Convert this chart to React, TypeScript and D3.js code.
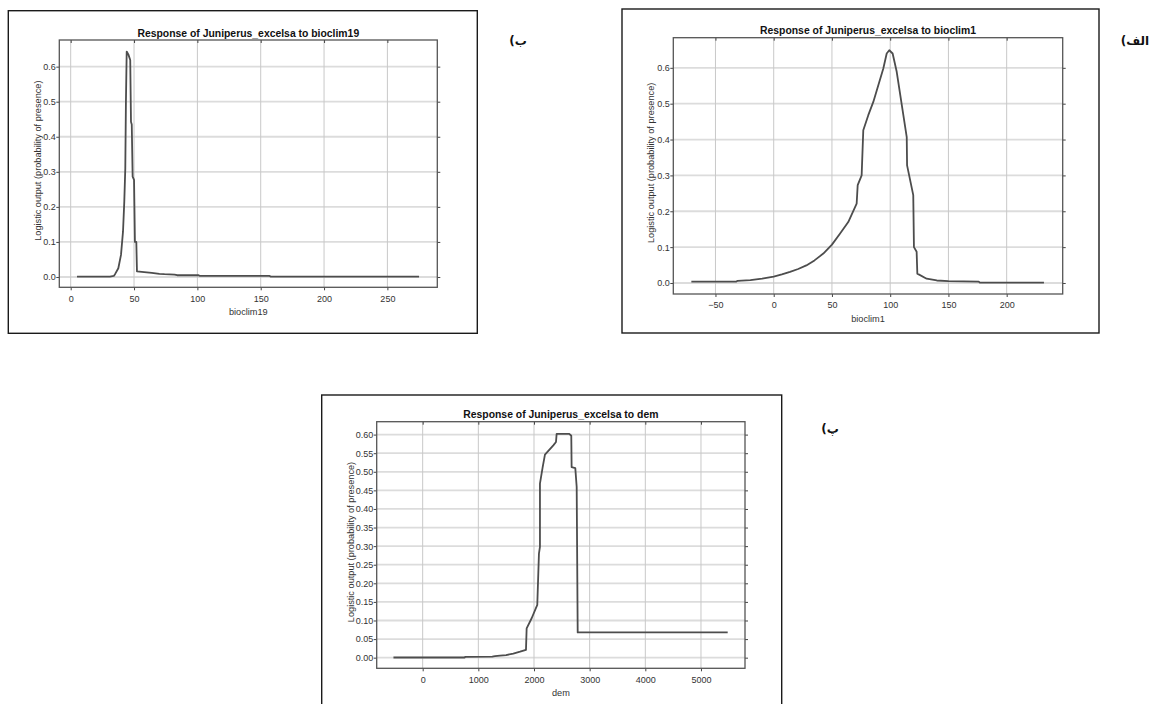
import React, { useEffect, useRef } from 'react';
import * as d3 from 'd3';

// response curves: [variable value, logistic output]
const bioclim1Curve: [number, number][] = [
  [-70.7, 0.004], [-32, 0.004], [-31, 0.006], [-20, 0.008], [-10, 0.012], [-5, 0.015],
  [0, 0.018], [7, 0.024], [14, 0.031], [21, 0.039], [28, 0.049], [35, 0.063], [42.6, 0.082],
  [50, 0.107], [57, 0.138], [64, 0.17], [71.2, 0.221], [72.1, 0.273], [75.5, 0.3],
  [76.9, 0.426], [81.2, 0.468], [85.5, 0.505], [94.1, 0.598], [97, 0.64], [99.2, 0.649],
  [102.1, 0.64], [105.6, 0.589], [114.2, 0.407], [114.5, 0.328], [119.8, 0.245], [120.4, 0.1],
  [122.7, 0.087], [123.3, 0.026], [131.3, 0.012], [140, 0.007], [150, 0.005], [176, 0.004],
  [177, 0.001], [232, 0.001],
];

const bioclim19Curve: [number, number][] = [
  [5, 0.001], [31, 0.001], [34, 0.003], [35, 0.008], [37.6, 0.025], [39.7, 0.063],
  [41.3, 0.13], [42.3, 0.215], [43.1, 0.31], [43.6, 0.5], [44.2, 0.643], [45.5, 0.635],
  [47, 0.619], [47.6, 0.443], [48.2, 0.435], [48.9, 0.286], [50, 0.277], [50.7, 0.1],
  [51.8, 0.1], [52.3, 0.016], [58, 0.014], [64, 0.012], [70, 0.009], [74, 0.008],
  [82, 0.007], [84, 0.005], [101, 0.005], [102, 0.003], [157, 0.003], [158, 0.001], [275, 0.001],
];

const demCurve: [number, number][] = [
  [-525, 0.0005], [755, 0.0005], [760, 0.002], [1250, 0.003], [1300, 0.004], [1390, 0.0054],
  [1500, 0.007], [1628, 0.011], [1750, 0.016], [1856, 0.021], [1868, 0.079], [1958, 0.106],
  [2059, 0.142], [2089, 0.28], [2107, 0.298], [2107, 0.468], [2156, 0.5125], [2197, 0.546],
  [2347, 0.571], [2395, 0.58], [2407, 0.602], [2634, 0.602], [2670, 0.597], [2676, 0.5125],
  [2742, 0.51], [2767, 0.459], [2785, 0.068], [5480, 0.068],
];

const bioclim1Ticks = [-50, 0, 50, 100, 150, 200];
const bioclim19Ticks = [0, 50, 100, 150, 200, 250];
const demTicks = [0, 1000, 2000, 3000, 4000, 5000];
const probTicks = [0, 0.1, 0.2, 0.3, 0.4, 0.5, 0.6];
const probTicksFine = [0, 0.05, 0.1, 0.15, 0.2, 0.25, 0.3, 0.35, 0.4, 0.45, 0.5, 0.55, 0.6];

const titles = [
  'Response of Juniperus_excelsa to bioclim1',
  'Response of Juniperus_excelsa to bioclim19',
  'Response of Juniperus_excelsa to dem',
];
const xLabels = ['bioclim1', 'bioclim19', 'dem'];
const yLabel = 'Logistic output (probability of presence)';
const panelLetters = ['الف)', 'ب)', 'پ)'];

const FONT = "'Liberation Sans', Arial, sans-serif";

function drawPanel(svg, p) {
  const [l, t, r, b] = p.plot;
  const g = svg.append('g');

  g.append('rect')
    .attr('x', p.box[0]).attr('y', p.box[1])
    .attr('width', p.box[2] - p.box[0]).attr('height', p.box[3] - p.box[1])
    .attr('fill', '#fff').attr('stroke', '#1a1a1a').attr('stroke-width', 1.4);

  const x = d3.scaleLinear().domain(p.xDomain).range([l, r]);
  const y = d3.scaleLinear().domain(p.yDomain).range([b, t]);

  // grid
  g.append('g').selectAll('line').data(p.yTicks).join('line')
    .attr('x1', l).attr('x2', r)
    .attr('y1', d => y(d)).attr('y2', d => y(d))
    .attr('stroke', '#dcdcdc').attr('stroke-width', 1.8);
  g.append('g').selectAll('line').data(p.xTicks).join('line')
    .attr('x1', d => x(d)).attr('x2', d => x(d))
    .attr('y1', t).attr('y2', b)
    .attr('stroke', '#c8c8c8').attr('stroke-width', 1);

  const styleAxis = (sel, size) => {
    sel.select('.domain').remove();
    sel.attr('font-family', FONT).attr('font-size', size);
    sel.selectAll('.tick line').attr('stroke', '#444');
    sel.selectAll('.tick text').attr('fill', '#333');
  };

  g.append('g')
    .attr('transform', `translate(0,${b})`)
    .call(d3.axisBottom(x).tickValues(p.xTicks).tickFormat(d3.format('d')).tickSize(3).tickPadding(5))
    .call(s => styleAxis(s, p.tickSize));
  g.append('g')
    .attr('transform', `translate(${l},0)`)
    .call(d3.axisLeft(y).tickValues(p.yTicks).tickFormat(d3.format(p.yFormat)).tickSize(3).tickPadding(0.5))
    .call(s => styleAxis(s, p.tickSize));
  g.append('g')
    .attr('transform', `translate(0,${t})`)
    .call(d3.axisTop(x).tickValues(p.xTicks).tickFormat(() => '').tickSize(-3))
    .call(s => styleAxis(s, p.tickSize));
  g.append('g')
    .attr('transform', `translate(${r},0)`)
    .call(d3.axisRight(y).tickValues(p.yTicks).tickFormat(() => '').tickSize(3))
    .call(s => styleAxis(s, p.tickSize));

  g.append('rect')
    .attr('x', l).attr('y', t).attr('width', r - l).attr('height', b - t)
    .attr('fill', 'none').attr('stroke', '#555').attr('stroke-width', 1.3);

  const line = d3.line().x(d => x(d[0])).y(d => y(d[1]));
  g.append('path')
    .datum(p.data)
    .attr('fill', 'none')
    .attr('stroke', '#4d4d4d')
    .attr('stroke-width', 1.8)
    .attr('stroke-linejoin', 'round')
    .attr('d', line);

  g.append('text')
    .attr('x', (l + r) / 2).attr('y', t - 3.5)
    .attr('text-anchor', 'middle')
    .attr('font-family', FONT).attr('font-size', 10.4).attr('font-weight', 'bold')
    .attr('fill', '#111')
    .text(p.title);

  g.append('text')
    .attr('x', (l + r) / 2).attr('y', b + 27.5)
    .attr('text-anchor', 'middle')
    .attr('font-family', FONT).attr('font-size', 9.2)
    .attr('fill', '#333')
    .text(p.xLabel);

  // rotated label: baseline sits yLabelOffset px left of the plot frame
  g.append('text')
    .attr('transform', `translate(${l - p.yLabelOffset},${(t + b) / 2 - 3}) rotate(-90)`)
    .attr('text-anchor', 'middle')
    .attr('font-family', FONT).attr('font-size', 9.2)
    .attr('fill', '#333')
    .text(yLabel);

  g.append('text')
    .attr('x', p.letter[0]).attr('y', p.letter[1])
    .attr('text-anchor', 'middle')
    .attr('direction', 'rtl')
    .attr('font-family', "'DejaVu Sans', sans-serif")
    .attr('font-size', 12).attr('font-weight', 'bold')
    .attr('fill', '#111')
    .text(p.letterText);
}

export default function App() {
  const ref = useRef<SVGSVGElement>(null);

  useEffect(() => {
    const svg = d3.select(ref.current);
    svg.selectAll('*').remove();

    const panels = [
      {
        box: [622, 9, 1099, 333], plot: [673.3, 37.7, 1062.7, 294],
        xDomain: [-86.2, 248.1], yDomain: [-0.0307, 0.684],
        xTicks: bioclim1Ticks, yTicks: probTicks, yFormat: '.1f', tickSize: 9,
        data: bioclim1Curve, title: titles[0], xLabel: xLabels[0], yLabelOffset: 19.3,
        letter: [1135, 44.5], letterText: panelLetters[0],
      },
      {
        box: [8.3, 10.7, 477.3, 333.3], plot: [59.3, 40, 437.3, 287.3],
        xDomain: [-9, 289.4], yDomain: [-0.0294, 0.676],
        xTicks: bioclim19Ticks, yTicks: probTicks, yFormat: '.1f', tickSize: 9,
        data: bioclim19Curve, title: titles[1], xLabel: xLabels[1], yLabelOffset: 18.3,
        letter: [518, 44.5], letterText: panelLetters[1],
      },
      {
        box: [321.7, 395, 781.7, 720], plot: [376.7, 421.7, 745, 668.3],
        xDomain: [-826, 5791], yDomain: [-0.0286, 0.6347],
        xTicks: demTicks, yTicks: probTicksFine, yFormat: '.2f', tickSize: 9,
        data: demCurve, title: titles[2], xLabel: xLabels[2], yLabelOffset: 23.2,
        letter: [830, 432.5], letterText: panelLetters[2],
      },
    ];

    panels.forEach(p => drawPanel(svg, p));
  }, []);

  return (
    <svg
      ref={ref}
      width={1153}
      height={704}
      style={{ position: 'absolute', left: 0, top: 0, background: '#fff' }}
    />
  );
}
